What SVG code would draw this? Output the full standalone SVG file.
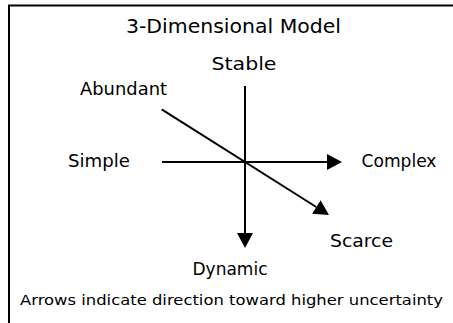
<svg xmlns="http://www.w3.org/2000/svg" width="453" height="323" viewBox="0 0 453 323">
  <style>
    text { font-family: "DejaVu Sans", "Liberation Sans", sans-serif; fill: #000; }
    .lbl { font-size: 17px; text-anchor: middle; }
    .title { font-size: 20px; text-anchor: middle; }
    .note { font-size: 14.5px; }
    .axis { stroke: #000; stroke-width: 2; fill: none; }
  </style>
  <defs>
    <marker id="arr" markerUnits="userSpaceOnUse" markerWidth="15" markerHeight="16" viewBox="0 0 15 16" refX="0" refY="8" orient="auto">
      <path d="M0,0 L15,8 L0,16 z" fill="#000"/>
    </marker>
  </defs>
  <rect x="0" y="0" width="453" height="323" fill="#fff"/>
  <path d="M9,323 V5.5 H453" stroke="#000" stroke-width="2" fill="none"/>
  <g id="title"><text class="title" x="233.5" y="33" textLength="215" lengthAdjust="spacingAndGlyphs">3-Dimensional Model</text></g>
  <g id="connectors">
    <line class="axis" x1="162" y1="162" x2="327" y2="162" marker-end="url(#arr)"/>
    <line class="axis" x1="245" y1="86" x2="245" y2="233" marker-end="url(#arr)"/>
    <line class="axis" x1="161.7" y1="109.3" x2="316.3" y2="207" marker-end="url(#arr)"/>
  </g>
  <g id="stable"><text class="lbl" x="244" y="70" textLength="65" lengthAdjust="spacingAndGlyphs">Stable</text></g>
  <g id="abundant"><text class="lbl" x="123.5" y="95" textLength="87" lengthAdjust="spacingAndGlyphs">Abundant</text></g>
  <g id="simple"><text class="lbl" x="99" y="167" textLength="62" lengthAdjust="spacingAndGlyphs">Simple</text></g>
  <g id="complex"><text class="lbl" x="399" y="167" textLength="75" lengthAdjust="spacingAndGlyphs">Complex</text></g>
  <g id="scarce"><text class="lbl" x="361.5" y="247" textLength="63" lengthAdjust="spacingAndGlyphs">Scarce</text></g>
  <g id="dynamic"><text class="lbl" x="230" y="275">Dynamic</text></g>
  <g id="note"><text class="note" x="20" y="305" textLength="423" lengthAdjust="spacingAndGlyphs">Arrows indicate direction toward higher uncertainty</text></g>
</svg>
